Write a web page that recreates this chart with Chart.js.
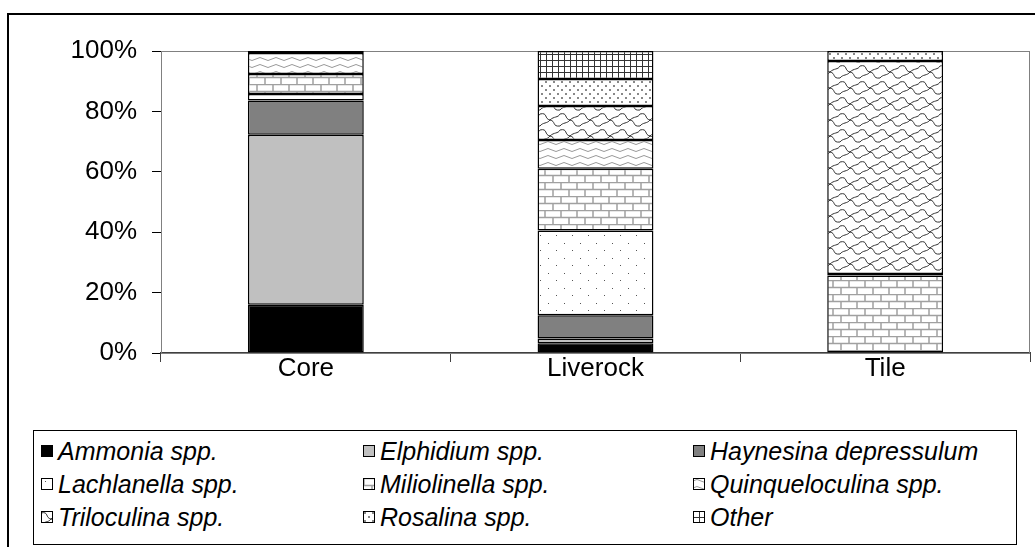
<!DOCTYPE html>
<html>
<head>
<meta charset="utf-8">
<script src="https://cdn.jsdelivr.net/npm/chart.js@4/dist/chart.umd.min.js"></script>
<style>
    body { margin: 0; background: #fff; font-family: "Liberation Sans", Arial, sans-serif; }
    #wrap { position: relative; width: 1035px; height: 547px; overflow: hidden; }
    #frame { position: absolute; left: 7px; top: 13px; width: 1100px; height: 600px; border: 2px solid #000; }
    #c { position: absolute; left: 0; top: 0; }
    #legend { position: absolute; left: 33px; top: 430px; width: 982px; height: 113px; border: 1px solid #000; background: #fff; }
    .item { position: absolute; font-style: italic; font-size: 25px; line-height: 30px; white-space: nowrap; color: #000; }
    .item canvas { position: absolute; left: 0; top: 9px; }
    .item span { position: absolute; left: 17px; top: 0; }
</style>
</head>
<body>
<div id="wrap">
    <div id="frame"></div>
    <canvas id="c" width="1035" height="547"></canvas>
    <div id="legend"></div>
</div>
<script>
const categories = ['Core', 'Liverock', 'Tile'];
const species = ['Ammonia spp.', 'Elphidium spp.', 'Haynesina depressulum', 'Lachlanella spp.', 'Miliolinella spp.',
    'Quinqueloculina spp.', 'Triloculina spp.', 'Rosalina spp.', 'Other'];
// percent of each sample, bottom to top
const ammonia = [16, 3.2, 0];
const elphidium = [56.3, 1.6, 0];
const haynesina = [11.3, 7.7, 0];
const lachlanella = [2.2, 28.1, 0];
const miliolinella = [6.6, 20.4, 25.7];
const quinqueloculina = [6.9, 9.5, 0.5];
const triloculina = [0, 11.3, 70.5];
const rosalina = [0.7, 8.9, 3.3];
const other = [0, 9.3, 0];
const yTicks = [0, 20, 40, 60, 80, 100];

// pattern tiles
function tile(w, h, draw) {
    const t = document.createElement('canvas');
    t.width = w; t.height = h;
    const g = t.getContext('2d');
    g.fillStyle = '#fff'; g.fillRect(0, 0, w, h);
    draw(g);
    return t;
}
const tiles = [
    tile(4, 4, (g) => { g.fillStyle = '#000'; g.fillRect(0, 0, 4, 4); }),
    tile(4, 4, (g) => { g.fillStyle = '#c0c0c0'; g.fillRect(0, 0, 4, 4); }),
    tile(4, 4, (g) => { g.fillStyle = '#808080'; g.fillRect(0, 0, 4, 4); }),
    tile(16, 15, (g) => { g.fillStyle = '#555'; g.fillRect(4, 3, 1, 1); g.fillRect(12, 10, 1, 1); }),
    tile(16, 14, (g) => {
        g.strokeStyle = '#a0a0a0'; g.lineWidth = 1.5;
        g.beginPath();
        g.moveTo(0, 0.5); g.lineTo(16, 0.5); g.moveTo(0, 7.5); g.lineTo(16, 7.5);
        g.moveTo(1, 0); g.lineTo(1, 7); g.moveTo(9, 7); g.lineTo(9, 14);
        g.stroke();
    }),
    tile(16, 7, (g) => {
        g.strokeStyle = '#999'; g.lineWidth = 1;
        g.beginPath();
        g.moveTo(0, 3); g.quadraticCurveTo(4, 0, 8, 3); g.quadraticCurveTo(12, 6, 16, 3);
        g.stroke();
    }),
    tile(20, 16, (g) => {
        g.strokeStyle = '#333'; g.lineWidth = 1;
        g.beginPath();
        g.moveTo(0, 2); g.bezierCurveTo(8, 0, 4, 7, 10, 8); g.bezierCurveTo(16, 9, 12, 15, 20, 14);
        g.moveTo(10, 8); g.bezierCurveTo(14, 4, 18, 6, 20, 2);
        g.moveTo(0, 14); g.bezierCurveTo(3, 10, 7, 12, 10, 8);
        g.stroke();
    }),
    tile(8, 8, (g) => { g.fillStyle = '#888'; g.fillRect(1, 1, 2, 2); g.fillRect(5, 5, 2, 2); }),
    tile(6, 6, (g) => { g.fillStyle = '#333'; g.fillRect(0, 0, 6, 1); g.fillRect(0, 0, 1, 6); }),
];

const ctx = document.getElementById('c').getContext('2d');
const patterns = tiles.map((t) => ctx.createPattern(t, 'repeat'));
const series = [ammonia, elphidium, haynesina, lachlanella, miliolinella, quinqueloculina, triloculina, rosalina, other];

const plotFrame = {
    id: 'plotFrame',
    beforeDatasetsDraw(chart) {
        const a = chart.chartArea, g = chart.ctx;
        g.save();
        g.strokeStyle = '#808080'; g.lineWidth = 1;
        g.strokeRect(a.left + 0.5, a.top + 0.5, a.right - a.left - 1, a.bottom - a.top);
        g.restore();
    },
};

new Chart(ctx, {
    type: 'bar',
    data: {
        labels: categories,
        datasets: series.map((s, i) => ({
            label: species[i],
            data: s,
            backgroundColor: patterns[i],
            borderColor: '#000',
            borderWidth: (c) => (c.raw ? 1.5 : 0),
            borderSkipped: false,
            categoryPercentage: 1,
            barPercentage: 0.4,
        })),
    },
    options: {
        responsive: false, animation: false,
        layout: { padding: { top: 51, right: 5, left: 0, bottom: 0 } },
        plugins: { legend: { display: false }, tooltip: { enabled: false } },
        scales: {
            x: {
                stacked: true,
                grid: { offset: true, drawOnChartArea: false, tickLength: 9, color: '#404040' },
                border: { color: '#404040', width: 2 },
                ticks: { color: '#000', font: { family: 'Liberation Sans', size: 26 }, padding: -9 },
                afterFit: (s) => { s.height = 194; },
            },
            y: {
                stacked: true, min: 0, max: 100,
                afterBuildTicks: (s) => { s.ticks = yTicks.map((v) => ({ value: v })); },
                grid: { drawOnChartArea: false, tickLength: 9, color: '#000' },
                border: { color: '#000', width: 1 },
                ticks: { color: '#000', font: { family: 'Liberation Sans', size: 26 }, padding: 15, callback: (v) => v + '%' },
                afterFit: (s) => { s.width = 161; },
            },
        },
    },
    plugins: [plotFrame],
});

// legend, 3 columns
const legend = document.getElementById('legend');
const colX = [7, 329, 659], rowY = [5, 38, 71];
species.forEach((name, i) => {
    const d = document.createElement('div');
    d.className = 'item';
    d.style.left = colX[i % 3] + 'px';
    d.style.top = rowY[Math.floor(i / 3)] + 'px';
    const sw = document.createElement('canvas');
    sw.width = 12; sw.height = 12;
    const g = sw.getContext('2d');
    g.fillStyle = g.createPattern(tiles[i], 'repeat');
    g.fillRect(0, 0, 12, 12);
    g.strokeStyle = '#000'; g.lineWidth = 1;
    g.strokeRect(0.5, 0.5, 11, 11);
    const t = document.createElement('span');
    t.textContent = name;
    d.appendChild(sw); d.appendChild(t);
    legend.appendChild(d);
});
</script>
</body>
</html>
